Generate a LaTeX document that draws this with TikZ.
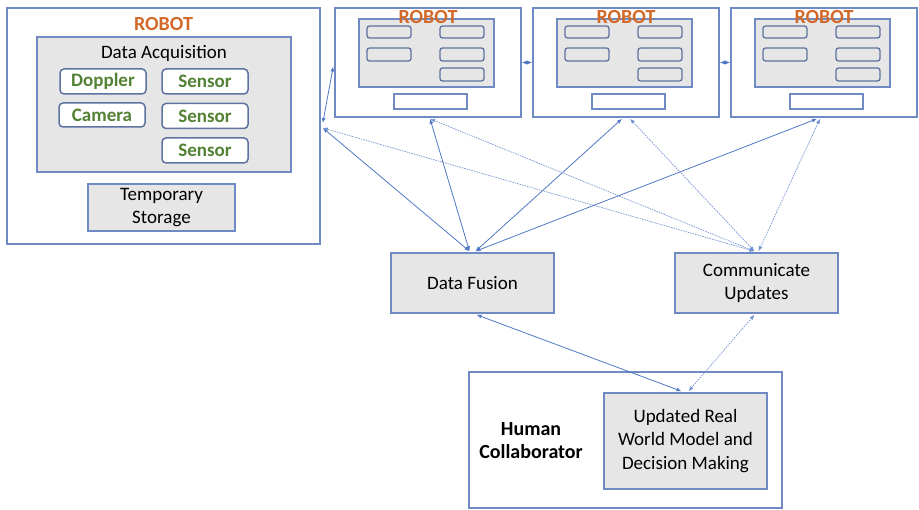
\documentclass[tikz,border=0pt]{standalone}
\usepackage{fontspec}
\setmainfont{Carlito}
\usetikzlibrary{arrows.meta,calc}
\definecolor{boxline}{RGB}{112,139,196}
\definecolor{arrowc}{RGB}{80,120,196}
\definecolor{grayfill}{RGB}{231,230,230}
\definecolor{robotor}{RGB}{210,105,40}
\definecolor{sensgreen}{RGB}{84,130,53}
\definecolor{smallline}{RGB}{95,115,160}
\tikzset{
  outerbox/.style={draw=boxline, line width=1.6pt, fill=white, inner sep=0pt},
  graybox/.style={draw=boxline, line width=1.5pt, fill=grayfill, inner sep=0pt, align=center, font=\fontsize{19}{23.5}\selectfont},
  sensbox/.style={draw=smallline, line width=1.5pt, fill=white, rounded corners=4pt, inner sep=0pt, minimum width=86pt, minimum height=25pt, text=sensgreen, font=\fontsize{19}{23}\selectfont\bfseries},
  tinybox/.style={draw=smallline, line width=1.3pt, fill=grayfill, rounded corners=2.5pt, inner sep=0pt, minimum width=44pt},
  whitebox/.style={draw=boxline, line width=1.3pt, fill=white, inner sep=0pt, minimum width=73pt, minimum height=15pt},
  robotlabel/.style={text=robotor, font=\fontsize{20}{22}\selectfont\bfseries, inner sep=0pt},
  solidcon/.style={draw=arrowc, line width=0.8pt, {Latex[length=5pt,width=4pt]}-{Latex[length=5pt,width=4pt]}},
  dotcon/.style={draw=arrowc!80, line width=0.7pt, dash pattern=on 1.5pt off 1pt, {Latex[length=5pt,width=4pt]}-{Latex[length=5pt,width=4pt]}}
}
\begin{document}
\begin{tikzpicture}[x=1pt,y=-1pt]
\useasboundingbox (0,0) rectangle (919,510);
% left robot
\node[outerbox, minimum width=313pt, minimum height=236pt] (r1) at (163.5,126) {};
\node[robotlabel] (r1lab) at (163.5,24) {ROBOT};
\node[graybox, minimum width=254pt, minimum height=135pt] (da) at (164,104.5) {};
\node[inner sep=0pt, font=\fontsize{19}{23}\selectfont] (dalab) at (164,53) {Data Acquisition};
\node[sensbox] (dop) at (103,81.5) {Doppler};
\node[sensbox] (s1) at (205,81.5) {Sensor};
\node[sensbox, minimum height=24pt] (cam) at (102,115) {Camera};
\node[sensbox] (s2) at (205,116) {Sensor};
\node[sensbox] (s3) at (205,150.5) {Sensor};
\node[graybox, minimum width=147pt, minimum height=47pt] (ts) at (161.5,207.5) {Temporary\\Storage};
% other robots
\foreach \i/\x in {2/335,3/533,4/731}{
  \node[outerbox, minimum width=186pt, minimum height=109pt] (r\i) at (\x+93,62.5) {};
  \node[graybox, minimum width=135pt, minimum height=68pt] (g\i) at (\x+91.5,53) {};
  \node[tinybox, minimum height=12pt] (a\i) at (\x+54,32) {};
  \node[tinybox, minimum height=13pt] (b\i) at (\x+54,54.5) {};
  \node[tinybox, minimum height=12pt] (c\i) at (\x+127,32) {};
  \node[tinybox, minimum height=13pt] (d\i) at (\x+127,54.5) {};
  \node[tinybox, minimum height=13pt] (e\i) at (\x+127,74.5) {};
  \node[whitebox] (w\i) at (\x+95.5,101.5) {};
  \node[robotlabel] (lab\i) at (\x+93,17) {ROBOT};
}
% middle boxes
\node[graybox, minimum width=163pt, minimum height=60pt] (df) at (472.5,283) {Data Fusion};
\node[graybox, minimum width=163pt, minimum height=60pt] (cu) at (756.5,283) {Communicate\\Updates};
% human
\node[outerbox, minimum width=313pt, minimum height=136pt] (hc) at (625.5,440) {};
\node[inner sep=0pt, align=center, font=\fontsize{20}{23}\selectfont\bfseries] (hclab) at (531,441) {Human\\Collaborator};
\node[graybox, minimum width=163pt, minimum height=96pt] (hm) at (685.5,441) {Updated Real\\World Model and\\Decision Making};
% coordinates
\coordinate (r1a) at ($(r1.east)+(2,-3)$);
\coordinate (r1b) at ($(r1.east)+(2,2)$);
\coordinate (r2s) at ($(r2.south)+(2,1)$);
\coordinate (r3s) at ($(r3.south)+(-4,1)$);
\coordinate (r3t) at ($(r3.south)+(4,1)$);
\coordinate (r4s) at ($(r4.south)+(-7,1)$);
\coordinate (r4t) at ($(r4.south)+(-4,1)$);
\coordinate (dfa) at ($(df.north)+(-3,-1)$);
\coordinate (dfb) at ($(df.north)+(3,-1)$);
\coordinate (cua) at ($(cu.north)+(-2,-1)$);
\coordinate (cub) at ($(cu.north)+(2,-1)$);
\coordinate (dfs) at ($(df.south)+(4,1)$);
\coordinate (cus) at ($(cu.south)+(-2,1)$);
\coordinate (hma) at ($(hm.north)+(-4,-1)$);
\coordinate (hmb) at ($(hm.north)+(3,-1)$);
\coordinate (r2w) at ($(r2.west)+(-1,4)$);
% connectors
\draw[solidcon] (r1a) -- (r2w);
\draw[solidcon] (r2.east) -- (r3.west);
\draw[solidcon] (r3.east) -- (r4.west);
\draw[solidcon] (r1b) -- (dfa);
\draw[solidcon] (r2s) -- (dfa);
\draw[solidcon] (r3s) -- (dfb);
\draw[solidcon] (r4s) -- (dfb);
\draw[dotcon] (r1b) -- (cua);
\draw[dotcon] (r2s) -- (cua);
\draw[dotcon] (r3t) -- (cua);
\draw[dotcon] (r4t) -- (cub);
\draw[solidcon] (dfs) -- (hma);
\draw[dotcon] (cus) -- (hmb);
\end{tikzpicture}
\end{document}
